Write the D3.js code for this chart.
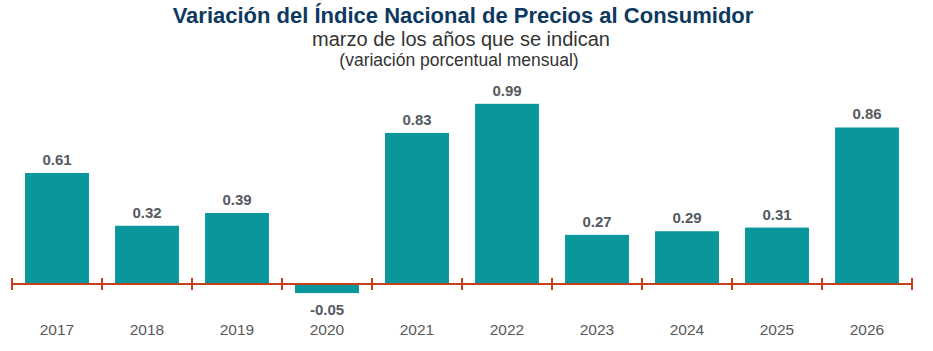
<!DOCTYPE html>
<html>
<head>
<meta charset="utf-8">
<title>INPC marzo</title>
<style>
  body { margin: 0; background: #fff; }
  text { font-family: "Liberation Sans", Arial, sans-serif; }
</style>
</head>
<body>
<script src="https://d3js.org/d3.v7.min.js"></script>
<script>
    const years = ['2017', '2018', '2019', '2020', '2021', '2022', '2023', '2024', '2025', '2026'];
    const values = [0.61, 0.32, 0.39, -0.05, 0.83, 0.99, 0.27, 0.29, 0.31, 0.86];

    const width = 933, height = 351;
    const margin = {left: 12, right: 21};

    const svg = d3.select('body').append('svg')
        .attr('width', width)
        .attr('height', height);

    const x = d3.scaleBand()
        .domain(years)
        .range([margin.left, width - margin.right])
        .paddingInner(0.29)
        .paddingOuter(0.145);

    // zero line at 284, roughly 182 px per point
    const y = d3.scaleLinear()
        .domain([-0.1, 1.0])
        .range([284 + 18.2, 284 - 182]);

    // titles
    svg.append('text')
        .attr('x', 463).attr('y', 23)
        .attr('text-anchor', 'middle')
        .attr('font-size', 22)
        .attr('font-weight', 'bold')
        .attr('fill', '#0d3960')
        .text('Variación del Índice Nacional de Precios al Consumidor');

    svg.append('text')
        .attr('x', 461).attr('y', 46)
        .attr('text-anchor', 'middle')
        .attr('font-size', 20)
        .attr('fill', '#333')
        .text('marzo de los años que se indican');

    svg.append('text')
        .attr('x', 459).attr('y', 66)
        .attr('text-anchor', 'middle')
        .attr('font-size', 17.5)
        .attr('fill', '#333')
        .text('(variación porcentual mensual)');

    const data = years.map((yr, i) => ({year: yr, value: values[i]}));

    svg.selectAll('.bar')
        .data(data)
        .enter().append('rect')
        .attr('class', 'bar')
        .attr('x', d => x(d.year))
        .attr('width', x.bandwidth())
        .attr('y', d => y(Math.max(0, d.value)))
        .attr('height', d => Math.abs(y(d.value) - y(0)))
        .attr('fill', '#0a979b');

    svg.selectAll('.val')
        .data(data)
        .enter().append('text')
        .attr('class', 'val')
        .attr('x', d => x(d.year) + x.bandwidth() / 2)
        .attr('y', d => d.value >= 0 ? y(d.value) - 8 : y(d.value) + 22)
        .attr('text-anchor', 'middle')
        .attr('font-size', 15)
        .attr('font-weight', 'bold')
        .attr('fill', '#555a60')
        .text(d => d.value.toFixed(2));

    // axis with ticks between categories
    const axis = svg.append('g').attr('class', 'x axis');
    axis.append('line')
        .attr('x1', margin.left).attr('x2', width - margin.right)
        .attr('y1', y(0)).attr('y2', y(0))
        .attr('stroke', '#c4401c')
        .attr('stroke-width', 2);

    const step = x.step();
    const edges = d3.range(years.length + 1).map(i => margin.left + i * step);
    axis.selectAll('.tick')
        .data(edges)
        .enter().append('line')
        .attr('x1', d => d).attr('x2', d => d)
        .attr('y1', y(0) - 6).attr('y2', y(0) + 6)
        .attr('stroke', '#c4401c')
        .attr('stroke-width', 2);

    axis.selectAll('.lbl')
        .data(years)
        .enter().append('text')
        .attr('x', d => x(d) + x.bandwidth() / 2)
        .attr('y', 335)
        .attr('text-anchor', 'middle')
        .attr('font-size', 15.5)
        .attr('fill', '#595959')
        .text(d => d);
</script>
</body>
</html>
